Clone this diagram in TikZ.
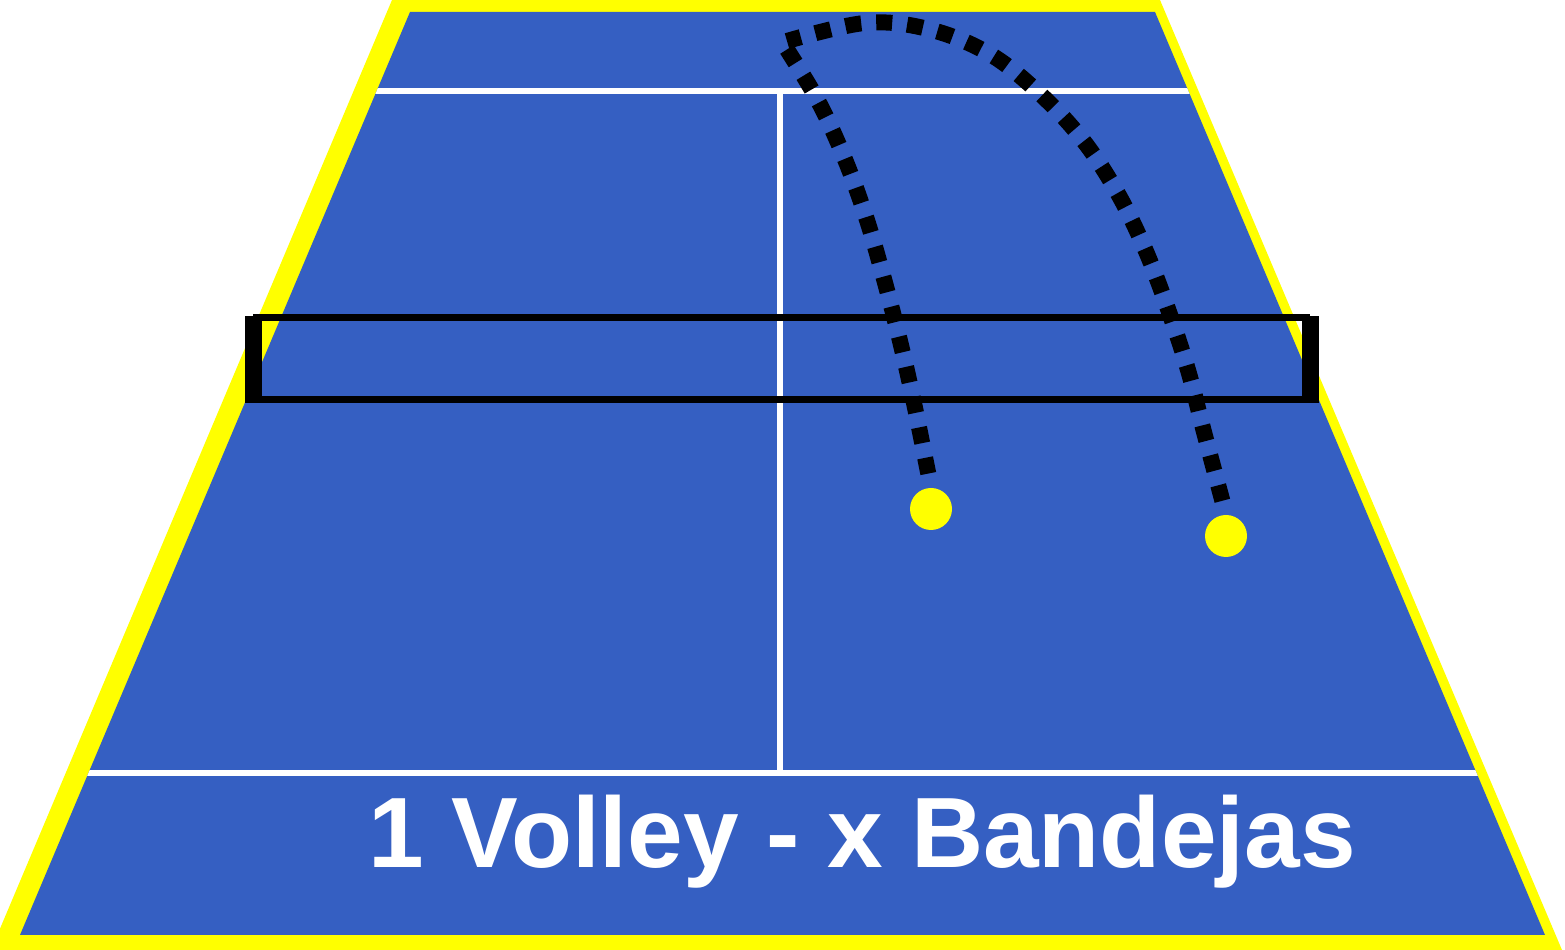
\documentclass[tikz,border=0pt]{standalone}
\usepackage{fontspec}
\setmainfont{Liberation Sans}
\usepackage{xcolor}
\usepackage{tikz}
\usetikzlibrary{positioning}
\definecolor{courtblue}{HTML}{355FC2}
\definecolor{wallyellow}{HTML}{FFFF00}

\begin{document}
\begin{tikzpicture}[
    x=0.1mm,y=-0.1mm,
    line join=miter,
    courtline/.style={draw=white, line width=0.6mm},
    netline/.style={draw=black, line width=0.7mm},
    netpost/.style={fill=black},
    ball/.style={circle, fill=wallyellow, minimum size=4.2mm, inner sep=0pt},
    shot/.style={draw=black, line width=1.6mm, dash pattern=on 1.6mm off 1.5mm, dash phase=1.7mm},
    caption/.style={text=white, font=\fontsize{28.45}{34}\selectfont\bfseries, inner sep=0pt}
]
\useasboundingbox (0,0) rectangle (1565,950);

% Court corners
\coordinate (otl) at (392,0);
\coordinate (otr) at (1160,0);
\coordinate (obr) at (1562,950);
\coordinate (obl) at (-9,950);
\coordinate (itl) at (410,12);
\coordinate (itr) at (1155,12);
\coordinate (ibr) at (1545,935);
\coordinate (ibl) at (20,935);

% Walls and court
\begin{scope}
\clip (0,0) rectangle (1565,950);
\fill[wallyellow] (otl) -- (otr) -- (obr) -- (obl) -- cycle;
\end{scope}
\fill[courtblue] (itl) -- (itr) -- (ibr) -- (ibl) -- cycle;

% Service and centre lines
\begin{scope}
\clip (itl) -- (itr) -- (ibr) -- (ibl) -- cycle;
\draw[courtline] (0,91) -- (1565,91);
\draw[courtline] (0,773) -- (1565,773);
\draw[courtline] (780,91) -- (780,773);
\end{scope}

% Net
\draw[netline] (256,318) rectangle (1306,400);
\fill[netpost] (245,316) rectangle (262,403);
\fill[netpost] (1302,316) rectangle (1319,403);

% Balls
\node[ball] (ball1) at (931,509) {};
\node[ball] (ball2) at (1226,536) {};
\coordinate (apex1) at (779,37);
\coordinate (apex2) at (787,41);

% Trajectories
\draw[shot] plot[smooth, tension=0.6] coordinates {(ball1.north) (914,403) (900,341) (884,279) (866,217) (844,157) (817,99) (apex1)};
\draw[shot] plot[smooth, tension=0.6] coordinates {(ball2.north) (1204,432) (1188,370) (1168,309) (1145,249) (1117,192) (1082,139) (1038,92) (988,53) (928,29) (865,23) (apex2)};

% Caption
\node[caption, anchor=base] (title) at (862,868) {1 Volley - x Bandejas};

\end{tikzpicture}
\end{document}
